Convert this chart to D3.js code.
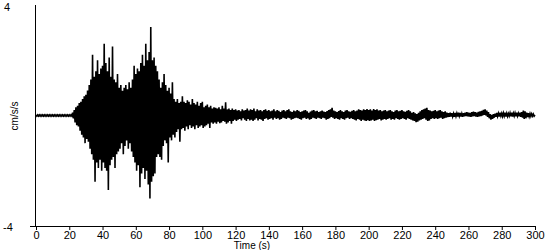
<!DOCTYPE html>
<html>
<head>
<meta charset="utf-8">
<script src="https://cdn.jsdelivr.net/npm/d3@7"></script>
<style>
  body { margin: 0; background: #fff; }
  text { font-family: "Liberation Sans", Arial, sans-serif; fill: #000; }
</style>
</head>
<body>
<div id="chart"></div>
<script>
// acceleration trace, read off the record once per second (t = 0..300 s)
// peak high / peak low within each second, cm/s/s
var peakHi = [
  0.02, 0.02, 0.02, 0.02, 0.02, 0.02, 0.02, 0.02, 0.02, 0.02,
  0.02, 0.02, 0.02, 0.02, 0.02, 0.02, 0.02, 0.02, 0.02, 0.02,
  0.02, 0.02, 0.1, 0.2, 0.3, 0.35, 0.45, 0.5, 0.6, 0.7,
  0.75, 0.9, 1.1, 1.3, 2.2, 1.4, 1.6, 2.0, 1.5, 1.7,
  1.8, 2.6, 1.9, 1.6, 2.1, 1.4, 2.5, 1.3, 1.2, 1.5,
  1.0, 1.1, 0.9, 1.0, 1.1, 0.95, 1.2, 1.0, 1.3, 1.8,
  1.5, 1.7, 1.6, 1.9, 2.2, 1.8, 2.6, 2.0, 2.3, 3.2,
  2.0, 2.1, 1.8, 1.6, 1.3, 1.0, 1.2, 1.5, 1.1, 0.9,
  1.0, 0.8, 1.2, 0.6, 0.5, 0.6, 0.45, 0.5, 0.7, 0.5,
  0.45, 0.55, 0.5, 0.4, 0.6, 0.45, 0.4, 0.5, 0.35, 0.45,
  0.5, 0.3, 0.35, 0.4, 0.3, 0.35, 0.25, 0.3, 0.28, 0.25,
  0.3, 0.22, 0.35, 0.25, 0.48, 0.22, 0.25, 0.2, 0.25, 0.2,
  0.22, 0.18, 0.2, 0.15, 0.22, 0.18, 0.2, 0.25, 0.18, 0.22,
  0.2, 0.25, 0.15, 0.22, 0.18, 0.2, 0.15, 0.2, 0.22, 0.17,
  0.2, 0.15, 0.18, 0.22, 0.15, 0.2, 0.17, 0.12, 0.18, 0.2,
  0.15, 0.2, 0.22, 0.15, 0.12, 0.18, 0.15, 0.2, 0.17, 0.12,
  0.15, 0.18, 0.2, 0.15, 0.1, 0.14, 0.18, 0.2, 0.15, 0.17,
  0.12, 0.15, 0.18, 0.14, 0.12, 0.16, 0.2, 0.22, 0.28, 0.18,
  0.15, 0.12, 0.16, 0.2, 0.15, 0.12, 0.18, 0.2, 0.15, 0.13,
  0.17, 0.2, 0.15, 0.18, 0.22, 0.2, 0.18, 0.22, 0.2, 0.23,
  0.2, 0.22, 0.18, 0.23, 0.2, 0.22, 0.18, 0.2, 0.15, 0.18,
  0.2, 0.15, 0.18, 0.2, 0.15, 0.12, 0.18, 0.2, 0.15, 0.17,
  0.2, 0.15, 0.13, 0.17, 0.2, 0.15, 0.1, 0.12, 0.08, 0.05,
  0.1, 0.15, 0.2, 0.22, 0.25, 0.28, 0.2, 0.18, 0.15, 0.17,
  0.2, 0.15, 0.18, 0.2, 0.15, 0.12, 0.15, 0.1, 0.08, 0.1,
  0.08, 0.07, 0.09, 0.08, 0.1, 0.09, 0.07, 0.08, 0.1, 0.12,
  0.1, 0.09, 0.12, 0.14, 0.12, 0.1, 0.13, 0.15, 0.17, 0.2,
  0.22, 0.18, 0.12, 0.05, 0.02, 0.05, 0.07, 0.09, 0.08, 0.1,
  0.08, 0.09, 0.1, 0.08, 0.07, 0.09, 0.1, 0.08, 0.09, 0.1,
  0.08, 0.1, 0.12, 0.18, 0.15, 0.1, 0.08, 0.07, 0.06, 0.05,
  0.02
];
var peakLo = [
  -0.02, -0.02, -0.02, -0.02, -0.02, -0.02, -0.02, -0.02, -0.02, -0.02,
  -0.02, -0.02, -0.02, -0.02, -0.02, -0.02, -0.02, -0.02, -0.02, -0.02,
  -0.02, -0.02, -0.1, -0.25, -0.35, -0.4, -0.55, -0.7, -0.8, -1.0,
  -0.85, -0.95, -1.2, -1.4, -1.6, -2.4, -1.7, -1.9, -1.6, -2.0,
  -1.7, -1.9, -2.0, -2.7, -1.8, -1.6, -1.5, -1.9, -1.4, -1.3,
  -1.2, -1.0, -1.4, -1.1, -0.9, -1.2, -1.0, -1.3, -1.5, -1.7,
  -2.0, -1.8, -2.6, -2.1, -1.9, -2.3, -2.0, -2.5, -3.0, -2.4,
  -2.2, -2.1, -1.5, -1.4, -1.5, -1.6, -1.1, -0.9, -1.0, -1.7,
  -0.8, -0.9, -0.7, -0.8, -0.6, -0.5, -0.95, -0.5, -0.45, -0.55,
  -0.4, -0.5, -0.35, -0.45, -0.4, -0.5, -0.35, -0.45, -0.4, -0.35,
  -0.45, -0.4, -0.35, -0.3, -0.45, -0.25, -0.3, -0.25, -0.3, -0.22,
  -0.28, -0.25, -0.2, -0.22, -0.3, -0.25, -0.2, -0.3, -0.2, -0.15,
  -0.2, -0.15, -0.12, -0.18, -0.1, -0.15, -0.2, -0.12, -0.18, -0.15,
  -0.2, -0.15, -0.1, -0.18, -0.12, -0.15, -0.2, -0.12, -0.1, -0.15,
  -0.12, -0.1, -0.15, -0.08, -0.12, -0.1, -0.15, -0.12, -0.08, -0.1,
  -0.12, -0.08, -0.1, -0.15, -0.12, -0.1, -0.08, -0.1, -0.12, -0.15,
  -0.1, -0.08, -0.12, -0.1, -0.15, -0.12, -0.08, -0.1, -0.12, -0.08,
  -0.1, -0.12, -0.08, -0.1, -0.15, -0.12, -0.1, -0.05, -0.08, -0.12,
  -0.1, -0.12, -0.15, -0.1, -0.12, -0.15, -0.1, -0.08, -0.12, -0.1,
  -0.12, -0.15, -0.18, -0.12, -0.15, -0.2, -0.15, -0.18, -0.2, -0.17,
  -0.2, -0.18, -0.15, -0.2, -0.17, -0.15, -0.12, -0.18, -0.15, -0.12,
  -0.15, -0.12, -0.1, -0.15, -0.12, -0.15, -0.1, -0.12, -0.15, -0.12,
  -0.1, -0.12, -0.15, -0.1, -0.12, -0.15, -0.18, -0.2, -0.24, -0.22,
  -0.18, -0.15, -0.12, -0.1, -0.15, -0.2, -0.18, -0.12, -0.1, -0.12,
  -0.1, -0.12, -0.1, -0.08, -0.12, -0.1, -0.08, -0.06, -0.05, -0.04,
  -0.04, -0.05, -0.03, -0.04, -0.02, -0.04, -0.05, -0.03, -0.02, -0.03,
  -0.04, -0.05, -0.03, -0.02, -0.04, -0.05, -0.03, -0.02, 0.0, 0.02,
  0.0, -0.05, -0.1, -0.15, -0.12, -0.08, -0.05, -0.03, -0.04, -0.02,
  -0.03, -0.02, -0.04, -0.03, -0.02, -0.03, -0.04, -0.02, -0.03, -0.02,
  -0.03, -0.05, -0.08, -0.12, -0.1, -0.06, -0.04, -0.03, -0.02, -0.02,
  -0.02
];
var xTicks = [0, 20, 40, 60, 80, 100, 120, 140, 160, 180, 200, 220, 240, 260, 280, 300];
var yRange = [-4, 4];

const width = 550, height = 250;
const svg = d3.select("#chart").append("svg")
    .attr("width", width)
    .attr("height", height);

const x = d3.scaleLinear().domain([0, 300]).range([36, 535]);
const y = d3.scaleLinear().domain(yRange).range([226, 5]);

// trace: high then low peak for every second
var trace = [];
for (let i = 0; i < peakHi.length; i++) {
    trace.push([i, peakHi[i]]);
    if (i < peakHi.length - 1) trace.push([i + 0.5, peakLo[i]]);
}

svg.append("path")
    .attr("d", d3.line().x(d => x(d[0])).y(d => y(d[1]))(trace))
    .attr("fill", "none")
    .attr("stroke", "#000")
    .attr("stroke-width", 1.6)
    .attr("stroke-linejoin", "miter");

// x axis
const gx = svg.append("g").attr("transform", "translate(0,226)");
gx.call(d3.axisBottom(x).tickValues(xTicks).tickSize(4).tickSizeOuter(0));
gx.select(".domain").remove();
gx.append("line").attr("x1", 30).attr("x2", 535.5).attr("y1", 0.5).attr("y2", 0.5)
    .attr("stroke", "#000");
gx.selectAll("text").attr("dy", "0.55em").style("font-size", "11px").style("font-family", "Liberation Sans, Arial, sans-serif");

// y axis line
svg.append("line").attr("x1", 35.5).attr("x2", 35.5).attr("y1", 5).attr("y2", 226)
    .attr("stroke", "#000");

svg.append("text").attr("x", 4).attr("y", 11).style("font-size", "11px").text(yRange[1]);
svg.append("text").attr("x", 3).attr("y", 231).style("font-size", "11px").text(yRange[0]);

svg.append("text")
    .attr("transform", "translate(18,116) rotate(-90)")
    .attr("text-anchor", "middle")
    .style("font-size", "10px")
    .text("cm/s/s");

svg.append("text")
    .attr("x", 252).attr("y", 249)
    .attr("text-anchor", "middle")
    .style("font-size", "10px")
    .text("Time (s)");
</script>
</body>
</html>
